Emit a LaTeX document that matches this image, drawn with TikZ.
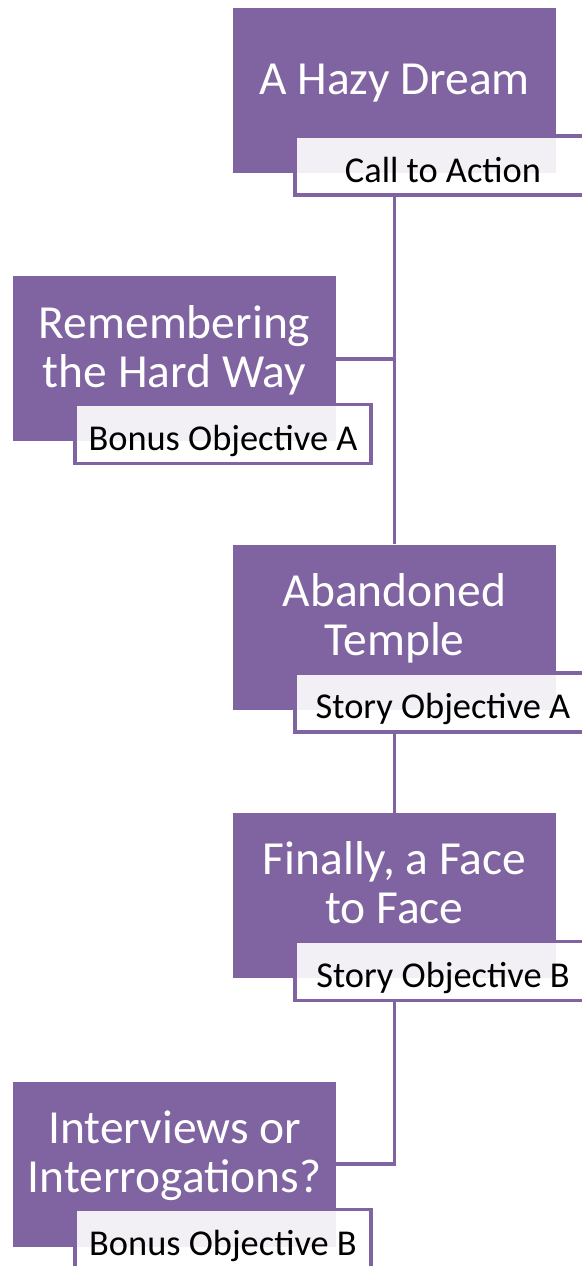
\documentclass[tikz,border=0pt]{standalone}
\usepackage{fontspec}
\setmainfont{Carlito}
\usetikzlibrary{positioning,calc}
\definecolor{questviolet}{RGB}{128,100,162}

\begin{document}
\begin{tikzpicture}[x=0.5pt, y=-0.5pt,
  stage/.style={fill=questviolet, text=white, minimum width=161.5pt, minimum height=82.5pt, inner sep=0pt, align=center,
    font=\fontsize{23.75}{24.5}\selectfont,
    execute at begin node=\strut, execute at end node={\strut\rule[-12.85pt]{0pt}{0pt}}},
  tag/.style={draw=questviolet, line width=1.7pt, fill=white, fill opacity=0.9, text opacity=1,
    minimum width=148pt, minimum height=29.5pt, inner sep=0pt, text height=18pt, text depth=1.5pt,
    font=\fontsize{18.2}{20}\selectfont},
  link/.style={draw=questviolet, line width=1.7pt}
]
\useasboundingbox (0,0) rectangle (582,1266);

\node[stage] (hazy) at (394.5,90.5) {A Hazy Dream};
\node[tag] (hazytag) at ($(hazy.center)+(48.5,75)$) {Call to Action};
\node[stage] (remember) at (174.5,358.9) {Remembering\\the Hard Way};
\node[tag] (remembertag) at ($(remember.center)+(48.5,75)$) {Bonus Objective A};
\node[stage] (temple) at (394.5,627.3) {Abandoned\\Temple};
\node[tag] (templetag) at ($(temple.center)+(48.5,75)$) {Story Objective A};
\node[stage] (face) at (394.5,895.7) {Finally, a Face\\to Face};
\node[tag] (facetag) at ($(face.center)+(48.5,75)$) {Story Objective B};
\node[stage] (interview) at (174.5,1164.1) {Interviews or\\Interrogations?};
\node[tag] (interviewtag) at ($(interview.center)+(48.5,75)$) {Bonus Objective B};

\draw[link] (hazy.south |- hazytag.south) -- (temple.north);
\draw[link] (hazy.south |- remember.east) -- (remember.east);
\draw[link] (temple.south |- templetag.south) -- (face.north);
\draw[link] (face.south |- facetag.south) |- (interview.east);
\end{tikzpicture}
\end{document}
